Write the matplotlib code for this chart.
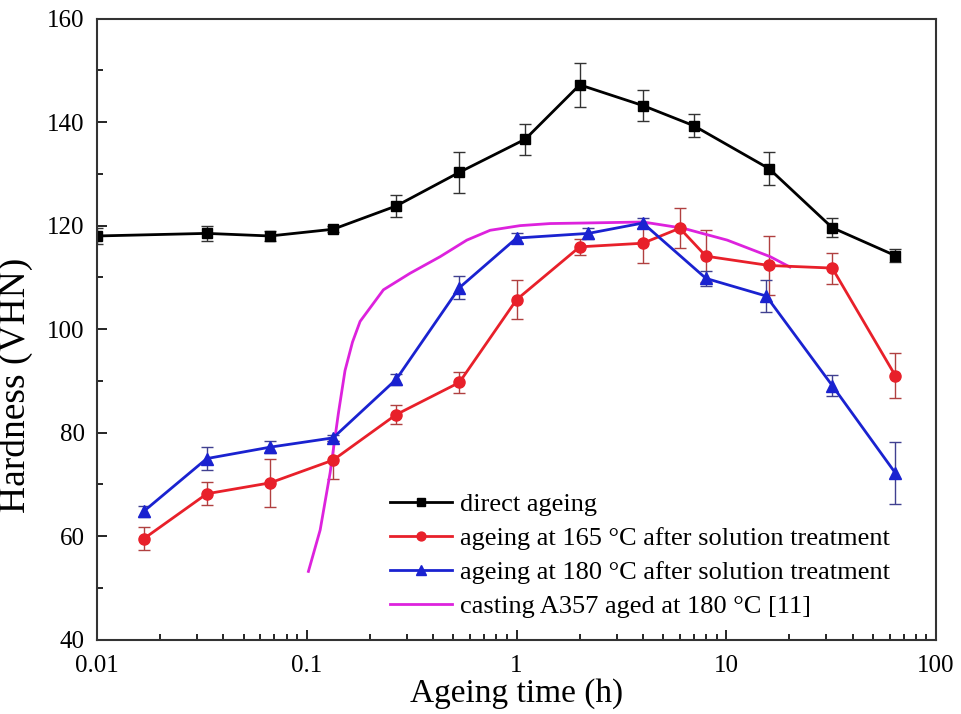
import matplotlib
matplotlib.use("Agg")
import matplotlib.pyplot as plt
from matplotlib.ticker import LogLocator, MultipleLocator, NullFormatter

plt.rcParams['font.family'] = ['Liberation Serif', 'DejaVu Serif']

# direct ageing
t_direct = [0.01, 2/60, 4/60, 8/60, 16/60, 32/60, 1.1, 2, 4, 7, 16, 32, 64]
h_direct = [118.0, 118.5, 118.0, 119.3, 123.8, 130.3, 136.7, 147.2, 143.2, 139.3, 131.0, 119.6, 114.2]
e_direct = [1.5, 1.5, 1.0, 0.6, 2.2, 4.0, 3.0, 4.3, 3.0, 2.2, 3.2, 1.8, 1.2]

# ageing at 165 °C after solution treatment
t_165 = [1/60, 2/60, 4/60, 8/60, 16/60, 32/60, 1.0, 2, 4, 6, 8, 16, 32, 64]
h_165 = [59.5, 68.2, 70.3, 74.7, 83.5, 89.7, 105.7, 115.9, 116.6, 119.5, 114.1, 112.3, 111.8, 91.0]
e_165 = [2.2, 2.2, 4.7, 3.7, 1.9, 2.0, 3.7, 1.5, 3.9, 3.9, 5.0, 5.7, 3.0, 4.3]

# ageing at 180 °C after solution treatment
t_180 = [1/60, 2/60, 4/60, 8/60, 16/60, 32/60, 1.0, 2.2, 4, 8, 15.5, 32, 64]
h_180 = [64.8, 75.0, 77.2, 79.0, 90.3, 108.0, 117.6, 118.5, 120.5, 109.8, 106.4, 89.1, 72.2]
e_180 = [1.0, 2.3, 1.2, 0.6, 1.0, 2.2, 1.0, 1.0, 1.0, 1.5, 3.0, 2.0, 6.0]

# casting A357 aged at 180 °C [11]
t_cast = [0.1017, 0.1157, 0.129, 0.1414, 0.152, 0.165, 0.1794, 0.2317, 0.3106, 0.4318,
          0.579, 0.748, 1.04, 1.445, 2.07, 4.01, 6.22, 10.1, 16.2, 20.1]
h_cast = [53.2, 61.2, 72.2, 83.8, 92.0, 97.5, 101.5, 107.6, 110.8, 114.0,
          117.2, 119.1, 120.0, 120.4, 120.5, 120.7, 119.5, 117.2, 114.0, 112.0]

labels = ['direct ageing',
          'ageing at 165 °C after solution treatment',
          'ageing at 180 °C after solution treatment',
          'casting A357 aged at 180 °C [11]']

fig = plt.figure(figsize=(9.62, 7.14), dpi=100)
ax = fig.add_axes([0.101, 0.104, 0.872, 0.870])

c1 = ax.errorbar(t_direct, h_direct, yerr=e_direct, color='black', marker='s', ms=7,
                 lw=2, capsize=4, elinewidth=1, ecolor='#333333')
c2 = ax.errorbar(t_165, h_165, yerr=e_165, color='#e8202a', marker='o', ms=8,
                 lw=2, capsize=4, elinewidth=1, ecolor='#b04040')
c3 = ax.errorbar(t_180, h_180, yerr=e_180, color='#1a22d0', marker='^', ms=9,
                 lw=2, capsize=4, elinewidth=1, ecolor='#404090')
l4, = ax.plot(t_cast, h_cast, color='#dd22dd', lw=2)

ax.set_xscale('log')
ax.set_xlim(0.01, 100)
ax.set_ylim(40, 160)
ax.yaxis.set_major_locator(MultipleLocator(20))
ax.yaxis.set_minor_locator(MultipleLocator(10))
ax.set_xticks([0.01, 0.1, 1, 10, 100])
ax.set_xticklabels(['0.01', '0.1', '1', '10', '100'])
ax.xaxis.set_minor_locator(LogLocator(base=10, subs=range(2, 10)))
ax.xaxis.set_minor_formatter(NullFormatter())
ax.tick_params(which='both', direction='in', top=False, right=False, labelsize=18, width=1.2)
ax.tick_params(axis='x', pad=11)
ax.tick_params(axis='y', pad=9)
ax.tick_params(which='major', length=7)
ax.tick_params(which='minor', length=4)
for s in ax.spines.values():
    s.set_linewidth(1.5)
    s.set_color('#333333')

ax.set_xlabel('Ageing time (h)', fontsize=24, labelpad=1)
ax.set_ylabel('Hardness (VHN)', fontsize=27)
ax.yaxis.set_label_coords(-0.076, 0.41)

ax.legend([c1[0], c2[0], c3[0], l4], labels, loc='lower left',
          bbox_to_anchor=(0.349, 0.035), frameon=False, fontsize=19,
          handlelength=2.35, handletextpad=0.3, labelspacing=0.4,
          borderaxespad=0, borderpad=0, markerscale=0.8)

fig.savefig('out.png', dpi=100)
